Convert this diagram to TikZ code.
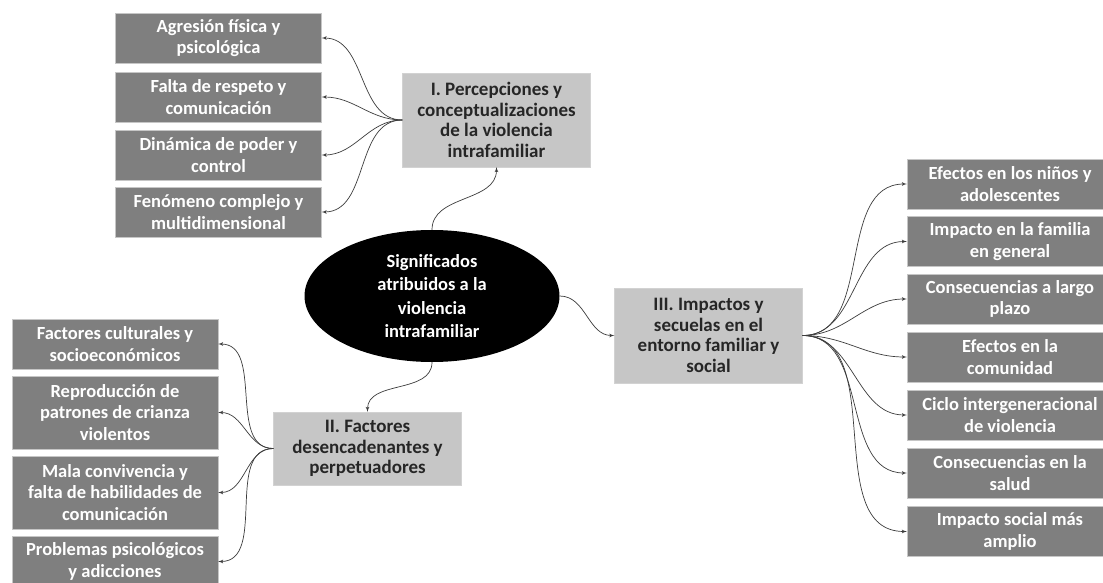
\documentclass[tikz,border=0pt]{standalone}
\usepackage{fontspec}
\setmainfont{Carlito}
\usepackage{tikz}
\usetikzlibrary{shapes,arrows}
\definecolor{leafgray}{HTML}{7F7F7F}
\definecolor{themegray}{HTML}{C6C6C6}
\definecolor{linegray}{HTML}{3C3C3C}
\tikzstyle{leaf} = [rectangle, fill=leafgray, draw=gray!45, text=white, align=center, font=\fontsize{18.5}{21.5}\selectfont\bfseries, minimum width=206pt, minimum height=50pt, inner sep=1pt]
\tikzstyle{theme} = [rectangle, fill=themegray, draw=gray!35, text=black!85, align=center, font=\fontsize{19}{20.5}\selectfont\bfseries, minimum width=188pt, inner sep=1pt]
\tikzstyle{core} = [ellipse, fill=black, text=white, align=center, font=\fontsize{18.5}{23.5}\selectfont\bfseries, minimum width=255pt, minimum height=132pt, inner sep=0pt]
\tikzstyle{line} = [draw, line width=0.7pt, linegray, -latex']

\begin{document}
\begin{tikzpicture}[x=1pt, y=1pt]

\fill [white] (0, 0) rectangle (1103, -583);
\useasboundingbox (0, 0) rectangle (1103, -583);

\node [core] at (432, -296) (core) {Significados\\ atribuidos a la\\ violencia\\ intrafamiliar};

% I. percepciones

\node [theme, minimum height=94pt] at (496.5, -120) (percep) {I. Percepciones y\\ conceptualizaciones\\ de la violencia\\ intrafamiliar};
\node [leaf] at (218.5, -38) (percep1) {Agresión física y\\ psicológica};
\node [leaf] at (218.5, -97) (percep2) {Falta de respeto y\\ comunicación};
\node [leaf] at (218.5, -155) (percep3) {Dinámica de poder y\\ control};
\node [leaf] at (218.5, -212) (percep4) {Fenómeno complejo y\\ multidimensional};
\path [line] (core.north) to [out=90, in=-90] (percep.south);
\path [line] (percep.west) to [out=180, in=0] (percep1.east);
\path [line] (percep.west) to [out=180, in=0] (percep2.east);
\path [line] (percep.west) to [out=180, in=0] (percep3.east);
\path [line] (percep.west) to [out=180, in=0] (percep4.east);

% II. factores

\node [theme, minimum height=73pt] at (367.5, -448.5) (factor) {II. Factores\\ desencadenantes y\\ perpetuadores};
\node [leaf] at (115, -344) (factor1) {Factores culturales y\\ socioeconómicos};
\node [leaf, minimum height=73pt] at (115, -412.5) (factor2) {Reproducción de\\ patrones de crianza\\ violentos};
\node [leaf, minimum height=73pt] at (115, -492.5) (factor3) {Mala convivencia y\\ falta de habilidades de\\ comunicación};
\node [leaf, minimum height=51pt] at (115, -561.5) (factor4) {Problemas psicológicos\\ y adicciones};
\path [line] (core.south) to [out=-90, in=90] (factor.north);
\path [line] (factor.west) to [out=180, in=0] (factor1.east);
\path [line] (factor.west) to [out=180, in=0] (factor2.east);
\path [line] (factor.west) to [out=180, in=0] (factor3.east);
\path [line] (factor.west) to [out=180, in=0] (factor4.east);

% III. impactos

\node [theme, minimum height=95pt] at (708.5, -335.5) (impact) {III. Impactos y\\ secuelas en el\\ entorno familiar y\\ social};
\node [leaf] at (1010, -184) (impact1) {Efectos en los niños y\\ adolescentes};
\node [leaf] at (1010, -241.5) (impact2) {Impacto en la familia\\ en general};
\node [leaf] at (1010, -299) (impact3) {Consecuencias a largo\\ plazo};
\node [leaf] at (1010, -357) (impact4) {Efectos en la\\ comunidad};
\node [leaf] at (1010, -415) (impact5) {Ciclo intergeneracional\\ de violencia};
\node [leaf] at (1010, -473) (impact6) {Consecuencias en la\\ salud};
\node [leaf] at (1010, -531.5) (impact7) {Impacto social más\\ amplio};
\path [line] (core.east) to [out=0, in=180] (impact.west);
\path [line] (impact.east) to [out=0, in=180] (impact1.west);
\path [line] (impact.east) to [out=0, in=180] (impact2.west);
\path [line] (impact.east) to [out=0, in=180] (impact3.west);
\path [line] (impact.east) to [out=0, in=180] (impact4.west);
\path [line] (impact.east) to [out=0, in=180] (impact5.west);
\path [line] (impact.east) to [out=0, in=180] (impact6.west);
\path [line] (impact.east) to [out=0, in=180] (impact7.west);

\end{tikzpicture}
\end{document}
